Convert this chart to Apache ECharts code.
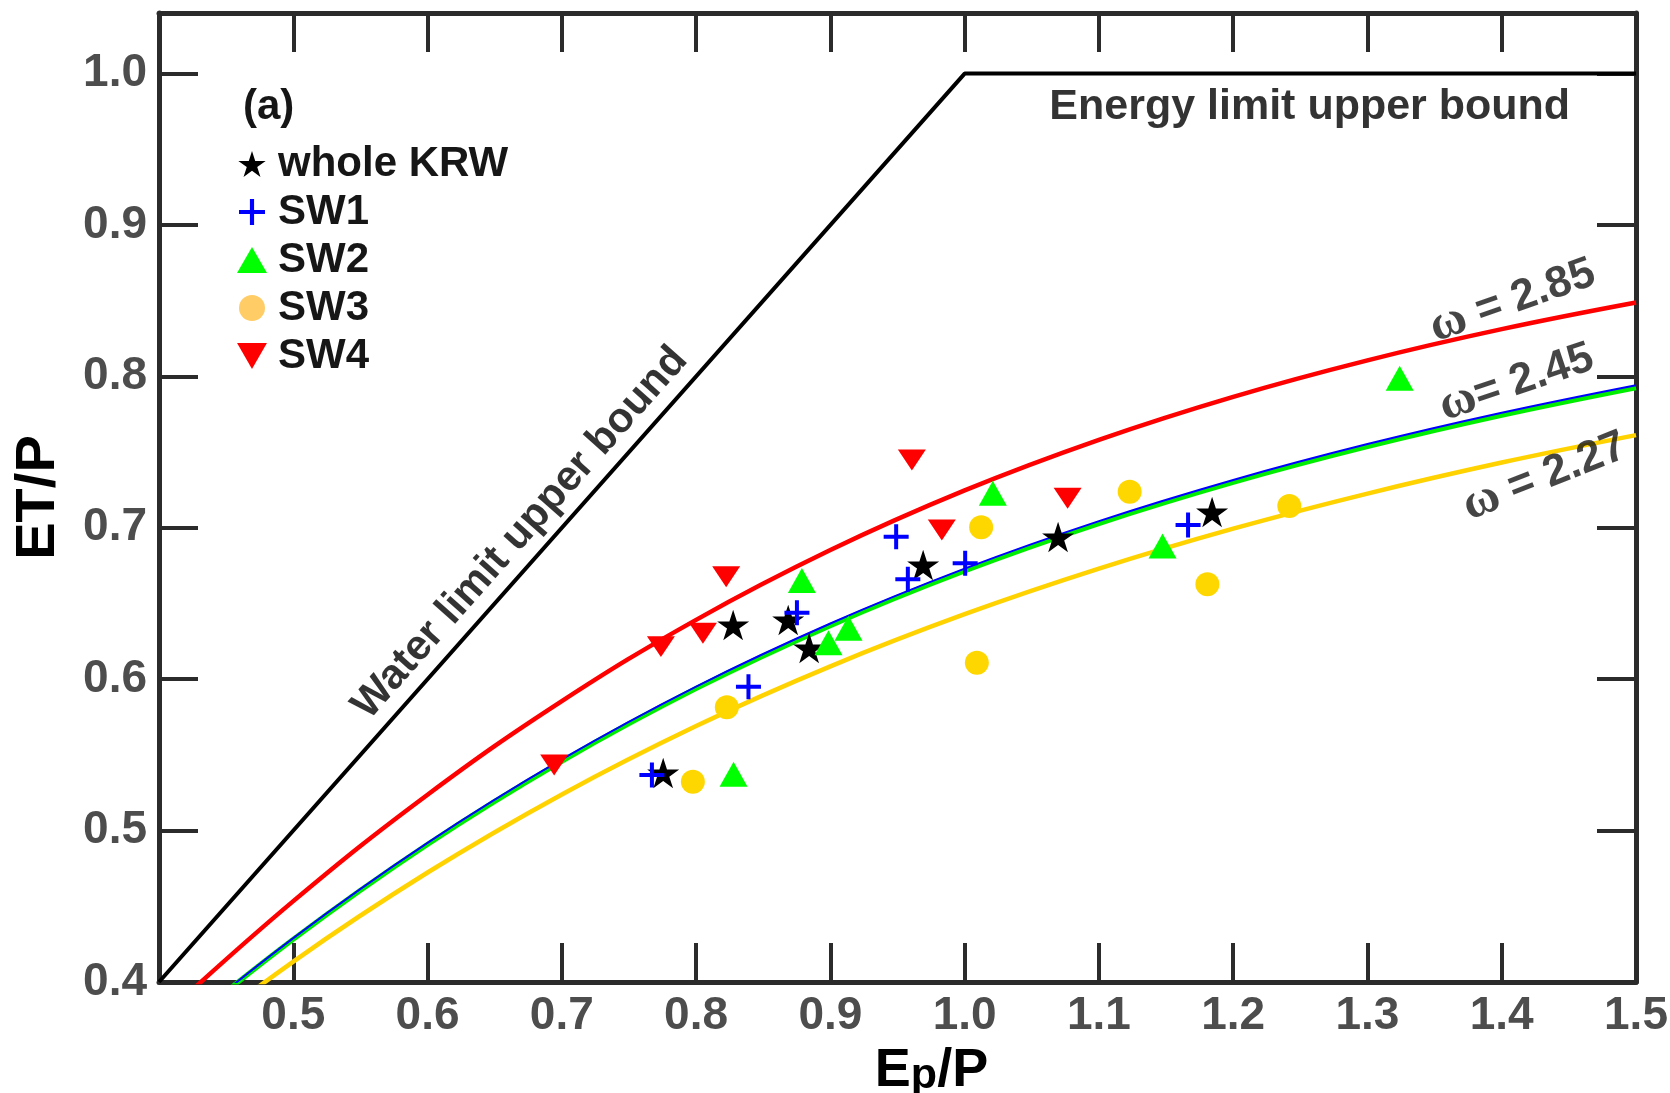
<!DOCTYPE html>
<html>
<head>
<meta charset="utf-8">
<title>ET/P vs Ep/P</title>
<script src="https://cdn.jsdelivr.net/npm/echarts@6/dist/echarts.min.js"></script>
<style>
  html, body { margin: 0; padding: 0; background: #fff; }
  #chart { width: 1670px; height: 1093px; }
</style>
</head>
<body>
<div id="chart"></div>
<script>
// Budyko-type curves (Fu's equation) tabulated at evenly spaced aridity index values
const curveX    = [0.40, 0.50, 0.60, 0.70, 0.80, 0.90, 1.00, 1.10, 1.20, 1.30, 1.40, 1.50];
const curveW285 = [0.3748, 0.4534, 0.5237, 0.5855, 0.6392, 0.6853, 0.7247, 0.7581, 0.7865, 0.8106, 0.8312, 0.8488];
const curveW245 = [0.3580, 0.4290, 0.4919, 0.5470, 0.5951, 0.6368, 0.6730, 0.7044, 0.7316, 0.7553, 0.7760, 0.7942];
const curveW244 = [0.3575, 0.4282, 0.4909, 0.5458, 0.5938, 0.6354, 0.6715, 0.7028, 0.7300, 0.7536, 0.7743, 0.7925];
const curveW227 = [0.3468, 0.4135, 0.4723, 0.5239, 0.5691, 0.6085, 0.6429, 0.6730, 0.6994, 0.7226, 0.7431, 0.7612];

// Water limit (ET = P) and energy limit (ET = Ep) upper bounds
const boundX = [0.4, 1.0, 1.5];
const boundY = [0.4, 1.0, 1.0];

// Observed annual points: [Ep/P, ET/P]
const wholeKRW = [[0.7755, 0.538], [0.8276, 0.6358], [0.8686, 0.6391], [0.8842, 0.6206], [0.9691, 0.6754], [1.0696, 0.6939], [1.1843, 0.7104]];
const sw1 = [[0.7671, 0.5367], [0.8390, 0.5950], [0.8751, 0.6439], [0.9490, 0.6941], [0.9577, 0.6660], [1.0004, 0.6766], [1.1664, 0.7018]];
const sw2 = [[0.8279, 0.5372], [0.8788, 0.6651], [0.8986, 0.6241], [0.9135, 0.6336], [1.0210, 0.7228], [1.1474, 0.6880], [1.3240, 0.7987]];
const sw3 = [[0.7976, 0.5323], [0.8229, 0.5814], [1.0091, 0.6109], [1.0123, 0.7003], [1.1229, 0.7238], [1.1808, 0.6627], [1.2418, 0.7144]];
const sw4 = [[0.6943, 0.5433], [0.7738, 0.6215], [0.8051, 0.6303], [0.8224, 0.6677], [0.9607, 0.7448], [0.9830, 0.6985], [1.0767, 0.7195]];

const seriesNames = ['whole KRW', 'SW1', 'SW2', 'SW3', 'SW4'];
const xTickValues = [0.5, 0.6, 0.7, 0.8, 0.9, 1.0, 1.1, 1.2, 1.3, 1.4, 1.5];
const yTickValues = [0.4, 0.5, 0.6, 0.7, 0.8, 0.9, 1.0];

// Text annotations placed in data space
const annotations = [
  { pos: [0.669, 0.6965], text: 'Water limit upper bound', rotate: 48.4, size: 42, kind: 'plain' },
  { pos: [1.257, 0.978], text: 'Energy limit upper bound', rotate: 0, size: 43, kind: 'plain' },
  { pos: [1.408, 0.850], text: '{w|ω} {t|= 2.85}', rotate: 19.5, size: 44, kind: 'omega' },
  { pos: [1.411, 0.796], text: '{w|ω}{t|= 2.45}', rotate: 18.7, size: 44, kind: 'omega' },
  { pos: [1.432, 0.734], text: '{w|ω} {t|= 2.27}', rotate: 21.5, size: 44, kind: 'omega' }
];

const STAR = 'path://M50 0 L61.23 34.55 L97.55 34.55 L68.17 55.9 L79.39 90.45 L50 69.1 L20.61 90.45 L31.83 55.9 L2.45 34.55 L38.77 34.55 Z';
const PLUS = 'path://M42 0 H58 V42 H100 V58 H58 V100 H42 V58 H0 V42 H42 Z';
const DOWN_TRI = 'path://M0 0 L100 0 L50 87 Z';

const FONT = '"Liberation Sans", Arial, Helvetica, sans-serif';
const AXIS_COLOR = '#2b2b2b';
const LABEL_COLOR = '#4d4d4d';
const TEXT_COLOR = '#161616';

const zip = (xs, ys) => xs.map((x, i) => [x, ys[i]]);

function curveSeries(ys, color, width) {
  return {
    type: 'line',
    data: zip(curveX, ys),
    smooth: 0.4,
    showSymbol: false,
    symbol: 'none',
    clip: true,
    silent: true,
    lineStyle: { color: color, width: width },
    z: 2
  };
}

function scatterSeries(name, data, symbol, size, color) {
  return {
    name: name,
    type: 'scatter',
    data: data,
    symbol: symbol,
    symbolSize: size,
    symbolKeepAspect: true,
    itemStyle: { color: color, opacity: 1 },
    z: 3
  };
}

const axisCommon = {
  type: 'value',
  axisLine: { show: true, onZero: false, lineStyle: { color: AXIS_COLOR, width: 5 } },
  axisTick: { show: true, inside: true, length: 39, lineStyle: { color: AXIS_COLOR, width: 4 } },
  splitLine: { show: false }
};

const chart = echarts.init(document.getElementById('chart'), null, { renderer: 'canvas' });

const option = {
  backgroundColor: '#ffffff',
  animation: false,
  title: {
    text: '(a)',
    left: 238,
    top: 81,
    textStyle: { fontFamily: FONT, fontSize: 42, fontWeight: 'bold', color: TEXT_COLOR }
  },
  legend: {
    orient: 'vertical',
    left: 232,
    top: 138,
    itemWidth: 30,
    itemHeight: 26,
    itemGap: 6,
    selectedMode: false,
    textStyle: { fontFamily: FONT, fontSize: 42, fontWeight: 'bold', color: TEXT_COLOR, padding: [0, 0, 0, 6] },
    data: [
      { name: seriesNames[0], icon: STAR, itemStyle: { color: '#000000' } },
      { name: seriesNames[1], icon: PLUS, itemStyle: { color: '#0000ff' } },
      { name: seriesNames[2], icon: 'triangle', itemStyle: { color: '#00ff00' } },
      { name: seriesNames[3], icon: 'circle', itemStyle: { color: '#ffcc66' } },
      { name: seriesNames[4], icon: DOWN_TRI, itemStyle: { color: '#ff0000' } }
    ]
  },
  grid: { left: 159, right: 34, top: 13, bottom: 111, containLabel: false, outerBoundsMode: 'none' },
  xAxis: [
    Object.assign({}, axisCommon, {
      position: 'bottom',
      min: 0.4, max: 1.5, interval: 0.1,
      name: '{E|E}{p|p}{P|/P}',
      nameLocation: 'middle',
      nameGap: 40,
      nameTextStyle: {
        padding: [0, 0, 0, 68],
        rich: {
          E: { fontFamily: FONT, fontSize: 54, fontWeight: 'bold', color: '#000', verticalAlign: 'bottom' },
          p: { fontFamily: FONT, fontSize: 43, fontWeight: 'bold', color: '#000', verticalAlign: 'bottom' },
          P: { fontFamily: FONT, fontSize: 54, fontWeight: 'bold', color: '#000', verticalAlign: 'bottom' }
        }
      },
      axisLabel: {
        show: true, margin: 11,
        fontFamily: FONT, fontSize: 46, fontWeight: 'bold', color: LABEL_COLOR,
        formatter: v => xTickValues.some(t => Math.abs(t - v) < 1e-6) ? v.toFixed(1) : ''
      }
    }),
    Object.assign({}, axisCommon, {
      position: 'top',
      min: 0.4, max: 1.5, interval: 0.1,
      axisLabel: { show: false }
    })
  ],
  yAxis: [
    Object.assign({}, axisCommon, {
      position: 'left',
      min: 0.4, max: 1.04, interval: 0.1,
      name: 'ET/P',
      nameLocation: 'middle',
      nameGap: 92,
      nameTextStyle: { fontFamily: FONT, fontSize: 56, fontWeight: 'bold', color: '#000' },
      axisLabel: {
        show: true, margin: 12,
        fontFamily: FONT, fontSize: 46, fontWeight: 'bold', color: LABEL_COLOR,
        formatter: v => yTickValues.some(t => Math.abs(t - v) < 1e-6) ? v.toFixed(1) : ''
      }
    }),
    Object.assign({}, axisCommon, {
      position: 'right',
      min: 0.4, max: 1.04, interval: 0.1,
      axisLabel: { show: false }
    })
  ],
  series: [
    {
      type: 'line',
      data: zip(boundX, boundY),
      symbol: 'none',
      silent: true,
      lineStyle: { color: '#000000', width: 4 },
      z: 2
    },
    curveSeries(curveW285, '#ff0000', 4.5),
    curveSeries(curveW244, '#00ee00', 5),
    curveSeries(curveW245, '#0000ff', 2),
    curveSeries(curveW227, '#ffd200', 4.5),
    scatterSeries(seriesNames[0], wholeKRW, STAR, 32, '#000000'),
    scatterSeries(seriesNames[1], sw1, PLUS, 25, '#0000ff'),
    scatterSeries(seriesNames[2], sw2, 'triangle', [28, 25], '#00ff00'),
    scatterSeries(seriesNames[3], sw3, 'circle', 24, '#ffd700'),
    scatterSeries(seriesNames[4], sw4, DOWN_TRI, [28, 24], '#ff0000'),
    {
      type: 'scatter',
      silent: true,
      symbolSize: 0,
      z: 4,
      data: annotations.map(a => ({
        value: a.pos,
        label: {
          show: true,
          position: 'inside',
          rotate: a.rotate,
          formatter: a.text,
          fontFamily: FONT,
          fontSize: a.size,
          fontWeight: 'bold',
          color: a.kind === 'plain' ? '#000000' : TEXT_COLOR,
          rich: {
            w: { fontFamily: '"Liberation Serif", "DejaVu Serif", serif', fontSize: 50, fontWeight: 'bold', color: TEXT_COLOR },
            t: { fontFamily: FONT, fontSize: 44, fontWeight: 'bold', color: TEXT_COLOR }
          }
        }
      }))
    }
  ]
};

chart.setOption(option);
</script>
</body>
</html>
